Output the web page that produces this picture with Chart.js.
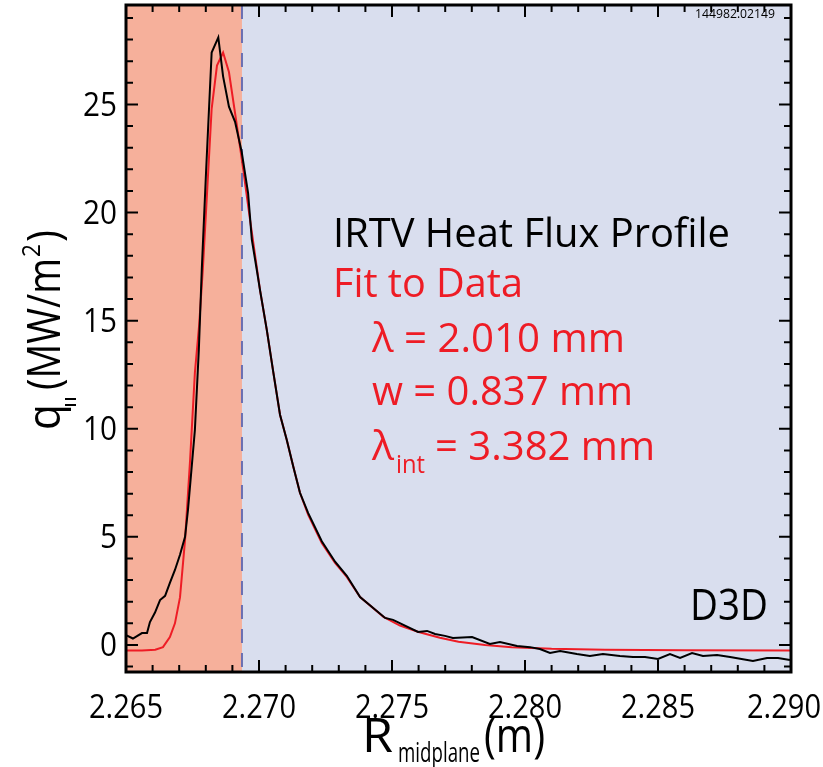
<!DOCTYPE html>
<html>
<head>
<meta charset="utf-8">
<script src="https://cdn.jsdelivr.net/npm/chart.js@4.4.0/dist/chart.umd.min.js"></script>
<style>
html, body { margin: 0; padding: 0; background: #fff; }
</style>
</head>
<body>
<canvas id="myChart" width="823" height="767"></canvas>
<script>
// IRTV measured profile: R (m) and q|| (MW/m2)
const dataR = [2.26500, 2.26526, 2.26560, 2.26579, 2.26590, 2.26609, 2.26628, 2.26647, 2.26665, 2.26684,
    2.26703, 2.26722, 2.26733, 2.26759, 2.26774, 2.26785, 2.26801, 2.26822, 2.26847, 2.26865,
    2.26887, 2.26910, 2.26935, 2.26959, 2.26973, 2.26991, 2.27004, 2.27029, 2.27054, 2.27079,
    2.27104, 2.27129, 2.27154, 2.27185, 2.27236, 2.27286, 2.27330, 2.27380, 2.27474, 2.27504,
    2.27598, 2.27632, 2.27662, 2.27699, 2.27729, 2.27801, 2.27868, 2.27906, 2.27970, 2.28019,
    2.28056, 2.28094, 2.28132, 2.28195, 2.28244, 2.28293, 2.28357, 2.28406, 2.28451, 2.28500,
    2.28545, 2.28583, 2.28628, 2.28669, 2.28722, 2.28771, 2.28857, 2.28910, 2.28951, 2.28996];
const dataQ = [0.46, 0.3, 0.55, 0.55, 1.06, 1.5, 2.08, 2.27, 2.87, 3.47,
    4.17, 5.0, 6.25, 9.95, 13.7, 17.4, 21.9, 27.4, 28.1, 26.3,
    24.9, 24.2, 22.8, 20.9, 18.75, 17.4, 16.4, 14.6, 12.6, 10.65,
    9.5, 8.24, 7.04, 6.1, 4.8, 3.85, 3.2, 2.22, 1.25, 1.16,
    0.6, 0.65, 0.51, 0.42, 0.32, 0.37, 0.05, 0.14, -0.05, -0.1,
    -0.19, -0.37, -0.28, -0.42, -0.51, -0.42, -0.51, -0.56, -0.56, -0.65,
    -0.42, -0.6, -0.37, -0.51, -0.46, -0.56, -0.74, -0.6, -0.6, -0.69];

// fit to data
const fitR = [2.26500, 2.26560, 2.26610, 2.26639, 2.26665, 2.26684, 2.26703, 2.26722, 2.26741, 2.26759,
    2.26775, 2.26789, 2.26806, 2.26822, 2.26842, 2.26865, 2.26887, 2.26910, 2.26935, 2.26966,
    2.27004, 2.27029, 2.27054, 2.27079, 2.27104, 2.27129, 2.27154, 2.27185, 2.27236, 2.27286,
    2.27330, 2.27380, 2.27468, 2.27530, 2.27600, 2.27680, 2.27750, 2.27850, 2.27950, 2.28100,
    2.28300, 2.28600, 2.29000];
const fitQ = [-0.25, -0.25, -0.22, -0.1, 0.37, 1.0, 2.2, 4.86, 8.56, 12.6,
    14.8, 17.4, 21.2, 24.8, 26.8, 27.4, 26.5, 24.6, 22.5, 19.7,
    16.4, 14.6, 12.6, 10.65, 9.5, 8.24, 7.04, 6.02, 4.72, 3.8,
    3.15, 2.22, 1.3, 0.9, 0.6, 0.33, 0.15, 0.0, -0.1, -0.18,
    -0.22, -0.24, -0.25];

const xTicks = [2.265, 2.270, 2.275, 2.280, 2.285, 2.290];
const xTickLabels = ["2.265", "2.270", "2.275", "2.280", "2.285", "2.290"];
const yTicks = [0, 5, 10, 15, 20, 25];
const yTickLabels = ["0", "5", "10", "15", "20", "25"];
const sepR = 2.26936; // boundary of the shaded regions

const FONT = '"Open Sans", "DejaVu Sans", sans-serif';

// draw text squeezed to a given width (left x, baseline y)
function squeezeText(ctx, str, x, y, size, color, w) {
    ctx.save();
    ctx.font = size + 'px ' + FONT;
    ctx.fillStyle = color;
    ctx.textAlign = 'left';
    ctx.textBaseline = 'alphabetic';
    let m = ctx.measureText(str).width;
    ctx.translate(x, y);
    ctx.scale(w / m, 1);
    ctx.fillText(str, 0, 0);
    ctx.restore();
}

const decor = {
    id: 'decor',
    beforeDatasetsDraw(chart) {
        const { ctx, chartArea: a, scales: { x } } = chart;
        const xs = x.getPixelForValue(sepR);
        ctx.save();
        ctx.fillStyle = '#f6b09b';
        ctx.fillRect(a.left, a.top, xs - a.left, a.bottom - a.top);
        ctx.fillStyle = '#d9deee';
        ctx.fillRect(xs, a.top, a.right - xs, a.bottom - a.top);
        ctx.strokeStyle = '#6b6fb2';
        ctx.lineWidth = 2;
        ctx.setLineDash([14, 10]);
        ctx.beginPath();
        ctx.moveTo(xs, a.top);
        ctx.lineTo(xs, a.bottom);
        ctx.stroke();
        ctx.restore();
    },
    afterDraw(chart) {
        const { ctx, chartArea: a, scales: { x, y } } = chart;
        ctx.save();
        // ticks, pointing inwards on all four sides
        ctx.strokeStyle = '#000';
        ctx.lineWidth = 2;
        ctx.beginPath();
        for (let i = 0; i <= 25; i++) {
            let v = 2.265 + i * 0.001;
            let px = x.getPixelForValue(v);
            let len = (i % 5 == 0) ? 12 : 7;
            ctx.moveTo(px, a.bottom); ctx.lineTo(px, a.bottom - len);
            ctx.moveTo(px, a.top); ctx.lineTo(px, a.top + len);
        }
        for (let v = -1; v <= 29; v++) {
            let py = y.getPixelForValue(v);
            let len = (v % 5 == 0) ? 12 : 7;
            ctx.moveTo(a.left, py); ctx.lineTo(a.left + len, py);
            ctx.moveTo(a.right, py); ctx.lineTo(a.right - len, py);
        }
        ctx.stroke();
        // frame
        ctx.lineWidth = 3;
        ctx.strokeRect(a.left, a.top, a.right - a.left, a.bottom - a.top);

        // tick labels
        xTicks.forEach((v, i) => {
            let px = x.getPixelForValue(v);
            let w = 74;
            let left = Math.min(px - w / 2, 821 - w);
            squeezeText(ctx, xTickLabels[i], left, 718, 32, '#000', w);
        });
        yTicks.forEach((v, i) => {
            let py = y.getPixelForValue(v);
            let w = yTickLabels[i].length * 17;
            squeezeText(ctx, yTickLabels[i], 117 - w, py + 11.5, 32, '#000', w);
        });

        // axis titles
        squeezeText(ctx, 'R', 362, 752, 47, '#000', 31);
        squeezeText(ctx, 'midplane', 398, 762, 27, '#000', 82);
        squeezeText(ctx, '(m)', 484, 752, 47, '#000', 61);

        ctx.save();
        ctx.translate(60, 430);
        ctx.rotate(-Math.PI / 2);
        squeezeText(ctx, 'q', 0, 0, 46, '#000', 26);
        ctx.lineWidth = 2;
        ctx.beginPath();
        ctx.moveTo(25, 5); ctx.lineTo(25, 16);
        ctx.moveTo(31, 5); ctx.lineTo(31, 16);
        ctx.stroke();
        squeezeText(ctx, '(MW/m', 40, 0, 46, '#000', 132);
        squeezeText(ctx, '2', 173, -20, 26, '#000', 13);
        squeezeText(ctx, ')', 188, 0, 46, '#000', 12);
        ctx.restore();

        // annotations
        squeezeText(ctx, 'IRTV Heat Flux Profile', 333, 247, 40, '#000', 397);
        squeezeText(ctx, 'Fit to Data', 333, 297, 40, '#ee1c25', 190);
        squeezeText(ctx, 'λ = 2.010 mm', 372, 352, 40, '#ee1c25', 253);
        squeezeText(ctx, 'w = 0.837 mm', 372, 405, 40, '#ee1c25', 261);
        squeezeText(ctx, 'λ', 372, 460, 40, '#ee1c25', 22);
        squeezeText(ctx, 'int', 396, 473, 26, '#ee1c25', 29);
        squeezeText(ctx, '= 3.382 mm', 435, 460, 40, '#ee1c25', 220);
        squeezeText(ctx, 'D3D', 690, 620, 44, '#000', 78);
        squeezeText(ctx, '144982.02149', 695, 18, 13, '#000', 80);
        ctx.restore();
    }
};

const measured = dataR.map((r, i) => ({ x: r, y: dataQ[i] }));
const fitted = fitR.map((r, i) => ({ x: r, y: fitQ[i] }));

const myChart = new Chart(document.getElementById('myChart'), {
    type: 'scatter',
    data: {
        datasets: [
            {
                label: 'IRTV Heat Flux Profile',
                data: measured,
                showLine: true,
                borderColor: '#000000',
                borderWidth: 2,
                pointRadius: 0,
                tension: 0
            },
            {
                label: 'Fit to Data',
                data: fitted,
                showLine: true,
                borderColor: '#ee1c25',
                borderWidth: 2,
                pointRadius: 0,
                tension: 0
            }
        ]
    },
    options: {
        responsive: false,
        animation: false,
        layout: { padding: { left: 126, right: 32, top: 5, bottom: 95 } },
        scales: {
            x: { type: 'linear', display: false, min: 2.265, max: 2.290 },
            y: { type: 'linear', display: false, min: -1.25, max: 29.6 }
        },
        plugins: {
            legend: { display: false },
            tooltip: { enabled: false }
        }
    },
    plugins: [decor]
});
</script>
</body>
</html>
